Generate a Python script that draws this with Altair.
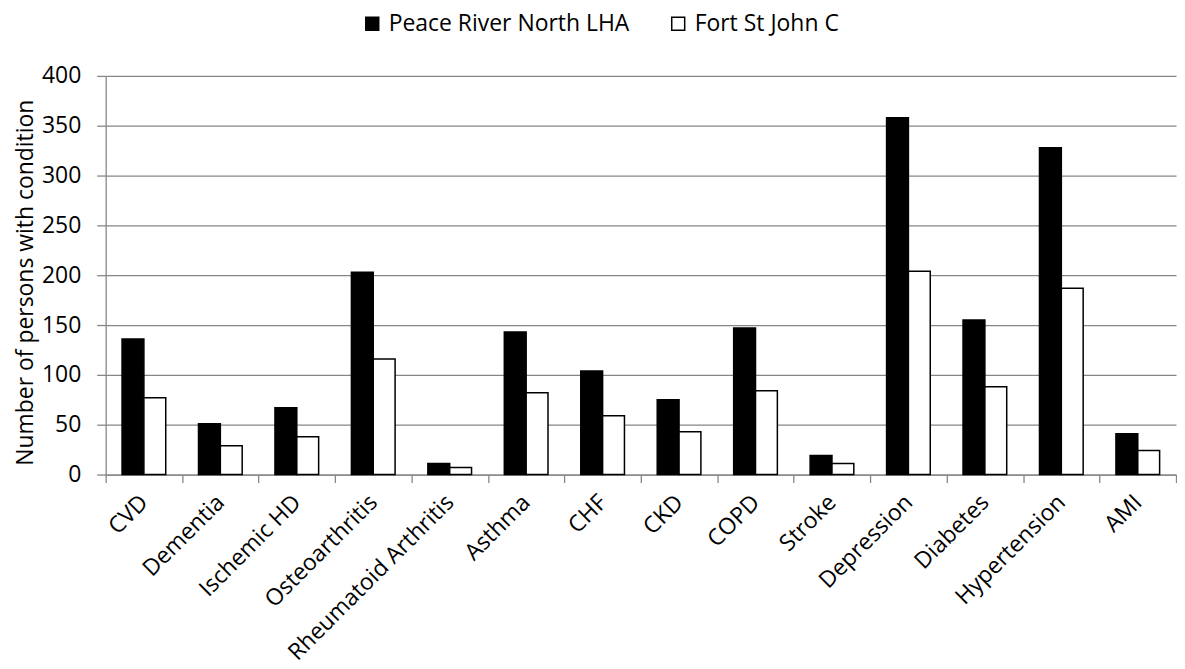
import altair as alt
import pandas as pd

conditions = ["CVD", "Dementia", "Ischemic HD", "Osteoarthritis", "Rheumatoid Arthritis",
              "Asthma", "CHF", "CKD", "COPD", "Stroke", "Depression", "Diabetes",
              "Hypertension", "AMI"]
peace_river = [136, 51, 67, 203, 11, 143, 104, 75, 147, 19, 358, 155, 328, 41]
fort_st_john = [77, 29, 38, 116, 7, 82, 59, 43, 84, 11, 204, 88, 187, 24]
series = ["Peace River North LHA", "Fort St John C"]
y_ticks = [0, 50, 100, 150, 200, 250, 300, 350, 400]

rows = []
for c, a, b in zip(conditions, peace_river, fort_st_john):
    rows.append({"condition": c, "series": series[0], "value": a})
    rows.append({"condition": c, "series": series[1], "value": b})
df = pd.DataFrame(rows)

FONT = "Open Sans"
GRAY = "#868686"
FS = 23

chart = alt.Chart(df).mark_bar(stroke="black", strokeWidth=1.5).encode(
    x=alt.X("condition:N", sort=conditions,
            scale=alt.Scale(paddingInner=0, paddingOuter=0),
            axis=alt.Axis(title=None, labelAngle=-45, labelAlign="right", labelBaseline="middle",
                          tickBand="extent", tickSize=8, labelPadding=16, labelLimit=0,
                          domainColor=GRAY, domainWidth=1.3, tickColor=GRAY, tickWidth=1.3,
                          labelFontSize=FS, labelFont=FONT, labelColor="black", grid=False)),
    xOffset=alt.XOffset("series:N", sort=series,
                        scale=alt.Scale(paddingInner=0, paddingOuter=0.75)),
    y=alt.Y("value:Q", scale=alt.Scale(domain=[0, 400], nice=False),
            axis=alt.Axis(title="Number of persons with condition", values=y_ticks,
                          tickSize=9, labelPadding=16, titlePadding=4, labelLimit=0,
                          titleY=207,
                          domainColor=GRAY, domainWidth=1.3, tickColor=GRAY, tickWidth=1.3,
                          gridColor=GRAY, gridWidth=1.3,
                          labelFontSize=FS, labelFont=FONT, labelColor="black",
                          titleFontSize=FS, titleFont=FONT, titleFontWeight="normal",
                          titleColor="black")),
    fill=alt.Fill("series:N", sort=series,
                  scale=alt.Scale(domain=series, range=["black", "white"]),
                  legend=alt.Legend(title=None, orient="none", legendX=256, legendY=-64,
                                    direction="horizontal", symbolType="square",
                                    symbolSize=169, symbolStrokeColor="black",
                                    symbolStrokeWidth=1.5, labelFontSize=FS, labelFont=FONT,
                                    labelColor="black", labelOffset=5, columnPadding=37,
                                    labelLimit=0)),
).properties(
    width=1074, height=400,
    padding={"left": 6, "top": 3, "right": 0, "bottom": 0},
).configure_view(stroke=None)

chart.save("out.html", embed_options={"renderer": "svg", "actions": False})
